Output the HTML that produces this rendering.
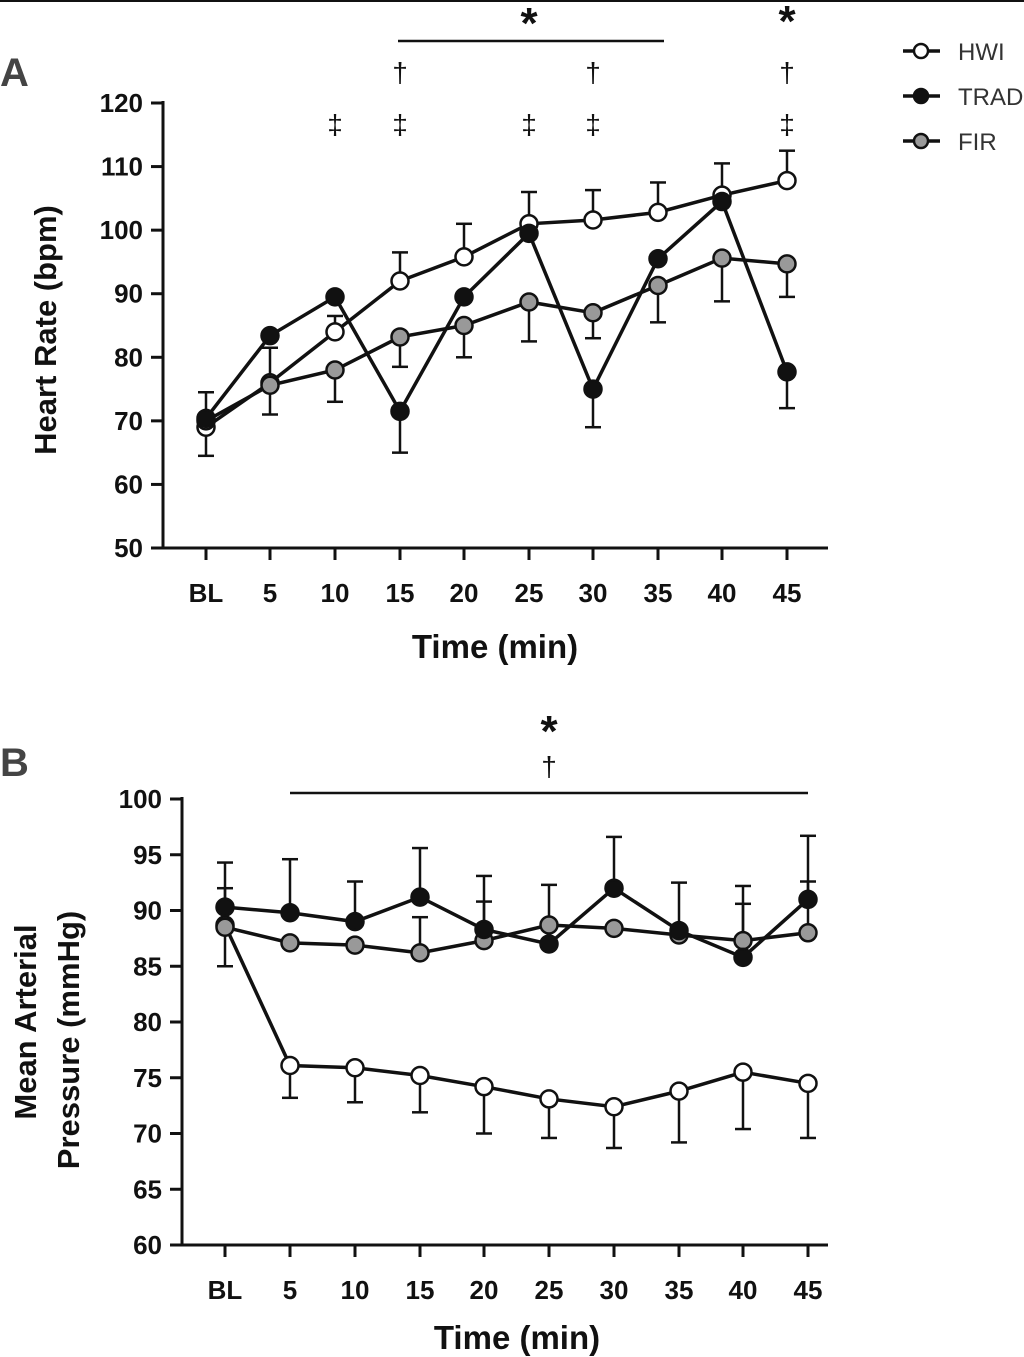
<!DOCTYPE html>
<html><head><meta charset="utf-8"><style>
html,body{margin:0;padding:0;background:#fff;}
svg{display:block;font-family:"Liberation Sans",Arial,sans-serif;}
</style></head><body>
<svg id="s" width="1024" height="1357" viewBox="0 0 1024 1357" xmlns="http://www.w3.org/2000/svg">
<line x1="0" y1="1" x2="1024" y2="1" stroke="#111" stroke-width="2"/>
<text x="0" y="86" font-size="40" font-weight="bold" fill="#444">A</text>
<text x="0" y="776" font-size="40" font-weight="bold" fill="#444">B</text>
<g stroke="#111" stroke-width="3.5">
<line x1="903" y1="51" x2="940" y2="51"/><line x1="903" y1="96" x2="940" y2="96"/><line x1="903" y1="141" x2="940" y2="141"/>
</g>
<circle cx="921" cy="51" r="7" fill="#fff" stroke="#111" stroke-width="2.5"/>
<circle cx="921" cy="96" r="7" fill="#111" stroke="#111" stroke-width="2.5"/>
<circle cx="921" cy="141" r="7" fill="#999" stroke="#111" stroke-width="2.5"/>
<g font-size="24" fill="#333"><text x="958" y="60">HWI</text><text x="958" y="105">TRAD</text><text x="958" y="150">FIR</text></g>
<g id="g"></g>
</svg>
<script>
var g=document.getElementById('g'),h='';
function L(x1,y1,x2,y2,w){h+='<line x1="'+x1+'" y1="'+y1+'" x2="'+x2+'" y2="'+y2+'" stroke="#111" stroke-width="'+(w||3)+'"/>';}
function T(x,y,t,s,a,b,f){h+='<text x="'+x+'" y="'+y+'" font-size="'+s+'" text-anchor="'+(a||'middle')+'"'+(b?' font-weight="bold"':'')+' fill="'+(f||'#111')+'">'+t+'</text>';}
function panel(o){
 var Y=function(v){return o.y0-(v-o.vmin)*o.k;};
 L(o.ax,o.ytop-2,o.ax,o.y0+1.5);L(o.ax-1.5,o.y0,o.xend,o.y0);
 for(var v=o.vmin;v<=o.vmax;v+=o.step){var y=Y(v);L(o.ax-12,y,o.ax,y);T(o.ax-20,y+9,v,26,'end',1);}
 o.xs.forEach(function(x,i){L(x,o.y0,x,o.y0+12);T(x,o.y0+54,['BL',5,10,15,20,25,30,35,40,45][i],26,'middle',1);});
 o.eb.forEach(function(e){var x=o.xs[e[0]];e.slice(1).forEach(function(p){L(x,Y(p[0]),x,Y(p[1]),2.5);L(x-8,Y(p[1]),x+8,Y(p[1]),2.5);});});
 var cols={h:'#fff',t:'#111',f:'#999'};
 ['h','f','t'].forEach(function(s){var d=o[s];var pts=d.map(function(v,i){return o.xs[i]+','+Y(v)}).join(' ');
  h+='<polyline points="'+pts+'" fill="none" stroke="#111" stroke-width="3.5"/>';});
 ['h','f','t'].forEach(function(s){o[s].forEach(function(v,i){h+='<circle cx="'+o.xs[i]+'" cy="'+Y(v)+'" r="8.5" fill="'+cols[s]+'" stroke="#111" stroke-width="2.5"/>';});});
}
var A={ax:163,y0:548,ytop:103,vmin:50,vmax:120,step:10,k:6.357,xend:828,
 xs:[206,270,335,400,464,529,593,658,722,787],
 h:[69,76,84,92,95.8,101,101.6,102.8,105.5,107.8],
 t:[70.4,83.4,89.5,71.5,89.5,99.5,75,95.5,104.5,77.7],
 f:[70,75.6,78,83.2,85,88.7,87,91.3,95.6,94.7],
 eb:[[0,[70,74.5],[69,64.5]],[1,[76,81.5],[75.6,71]],[2,[84,86.5],[78,73]],[3,[92,96.5],[71.5,65],[83.2,78.5]],[4,[95.8,101],[85,80]],[5,[101,106],[88.7,82.5]],[6,[101.6,106.3],[75,69],[87,83]],[7,[102.8,107.5],[91.3,85.5]],[8,[105.5,110.5],[95.6,88.8]],[9,[107.8,112.5],[77.7,72],[94.7,89.5]]]};
panel(A);
var B={ax:182,y0:1245,ytop:799,vmin:60,vmax:100,step:5,k:11.15,xend:828,
 xs:[225,290,355,420,484,549,614,679,743,808],
 h:[88.7,76.1,75.9,75.2,74.2,73.1,72.4,73.8,75.5,74.5],
 t:[90.3,89.8,89,91.2,88.3,87,92,88.2,85.8,91],
 f:[88.5,87.1,86.9,86.2,87.3,88.7,88.4,87.8,87.3,88],
 eb:[[0,[90.3,94.3],[90,92],[88.5,85]],[1,[89.8,94.6],[76.1,73.2]],[2,[89,92.6],[75.9,72.8]],[3,[91.2,95.6],[86.2,89.4],[75.2,71.9]],[4,[88.3,93.1],[87.3,90.8],[74.2,70]],[5,[88.7,92.3],[73.1,69.6]],[6,[92,96.6],[72.4,68.7]],[7,[88.2,92.5],[73.8,69.2]],[8,[87.3,92.2],[85.8,90.6],[75.5,70.4]],[9,[91,96.7],[88,92.6],[74.5,69.6]]]};
panel(B);
L(398,41,664,41,2.5);
[[529,38],[787,36]].forEach(function(p){T(p[0],p[1],'*',44,'middle',1);});
[400,593,787].forEach(function(x){T(x,82,'†',28);});
[335,400,529,593,787].forEach(function(x){T(x,134,'‡',28);});
L(290,793,808,793,2.5);T(549,746,'*',44,'middle',1);T(549,776,'†',28);
T(495,658,'Time (min)',33,'middle',1);T(517,1349,'Time (min)',33,'middle',1);
h+='<text transform="translate(56,330) rotate(-90)" font-size="31" font-weight="bold" text-anchor="middle" fill="#111">Heart Rate (bpm)</text>';
h+='<text transform="translate(36,1022) rotate(-90)" font-size="31" font-weight="bold" text-anchor="middle" fill="#111">Mean Arterial</text>';
h+='<text transform="translate(79,1040) rotate(-90)" font-size="31" font-weight="bold" text-anchor="middle" fill="#111">Pressure (mmHg)</text>';
g.innerHTML=h;
</script>
</body></html>
